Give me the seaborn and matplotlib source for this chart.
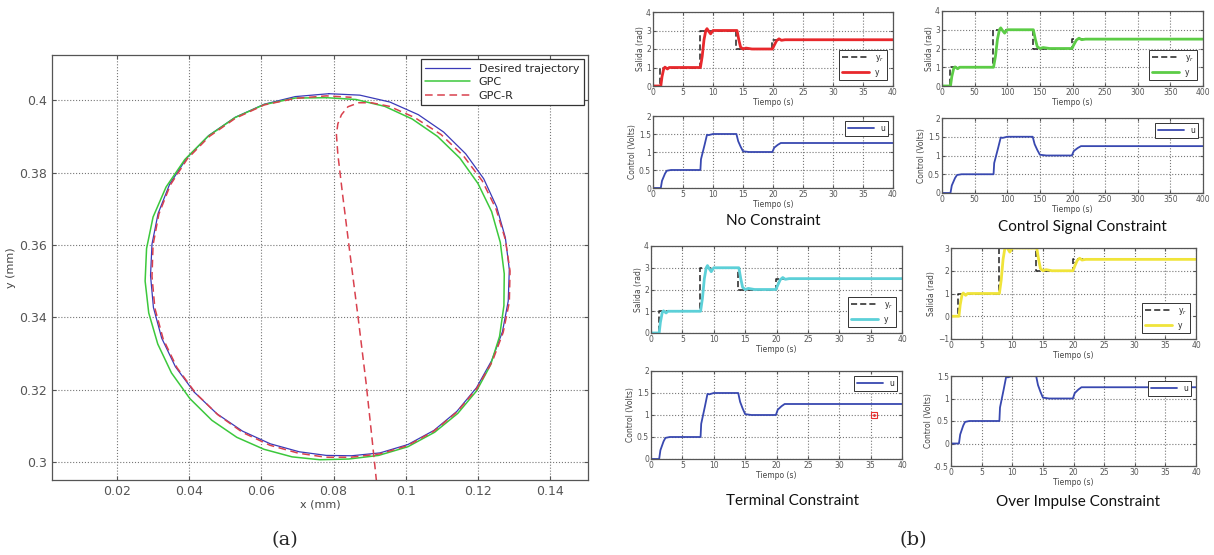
import matplotlib
matplotlib.use("Agg")
import matplotlib.pyplot as plt
import seaborn as sns

# ---- (a) circular trajectory, x / y in mm ----
desired_x = [0.0787, 0.0873, 0.0956, 0.1035, 0.1105, 0.1166, 0.1216, 0.1252, 0.1276, 0.1287,
             0.1284, 0.1268, 0.1238, 0.1196, 0.1142, 0.1078, 0.1006, 0.0929, 0.0850, 0.0780,
             0.0705, 0.0625, 0.0548, 0.0477, 0.0414, 0.0362, 0.0324, 0.0301, 0.0293, 0.0297,
             0.0314, 0.0346, 0.0394, 0.0455, 0.0528, 0.0608, 0.0694, 0.0787]
desired_y = [0.4018, 0.4014, 0.3995, 0.3960, 0.3912, 0.3852, 0.3783, 0.3705, 0.3620, 0.3532,
             0.3445, 0.3360, 0.3280, 0.3205, 0.3140, 0.3087, 0.3048, 0.3025, 0.3017, 0.3018,
             0.3028, 0.3050, 0.3085, 0.3133, 0.3193, 0.3263, 0.3342, 0.3427, 0.3515, 0.3602,
             0.3687, 0.3768, 0.3841, 0.3903, 0.3953, 0.3989, 0.4010, 0.4018]

gpc_x = [0.0780, 0.0862, 0.0942, 0.1018, 0.1088, 0.1150, 0.1200, 0.1238, 0.1262, 0.1273,
         0.1272, 0.1260, 0.1235, 0.1196, 0.1144, 0.1080, 0.1006, 0.0925, 0.0842, 0.0762,
         0.0685, 0.0607, 0.0532, 0.0463, 0.0402, 0.0351, 0.0313, 0.0288, 0.0278, 0.0282,
         0.0300, 0.0336, 0.0388, 0.0452, 0.0527, 0.0608, 0.0694, 0.0780]
gpc_y = [0.4007, 0.4002, 0.3983, 0.3948, 0.3900, 0.3840, 0.3770, 0.3692, 0.3607, 0.3520,
         0.3432, 0.3347, 0.3268, 0.3196, 0.3134, 0.3082, 0.3042, 0.3018, 0.3008, 0.3006,
         0.3014, 0.3035, 0.3068, 0.3115, 0.3175, 0.3246, 0.3326, 0.3412, 0.3500, 0.3590,
         0.3677, 0.3760, 0.3836, 0.3900, 0.3952, 0.3988, 0.4006, 0.4007]

gpcr_x = [0.0919, 0.0905, 0.0890, 0.0868, 0.0845, 0.0825, 0.0812, 0.0808, 0.0812, 0.0822,
          0.0840, 0.0870, 0.0905, 0.0955, 0.1025, 0.1098, 0.1160, 0.1212, 0.1250, 0.1276,
          0.1289, 0.1287, 0.1270, 0.1240, 0.1197, 0.1142, 0.1078, 0.1005, 0.0928, 0.0848,
          0.0778, 0.0703, 0.0624, 0.0549, 0.0480, 0.0418, 0.0366, 0.0328, 0.0305, 0.0297,
          0.0300, 0.0316, 0.0348, 0.0395, 0.0456, 0.0528, 0.0608, 0.0694, 0.0780, 0.0850]
gpcr_y = [0.2946, 0.3080, 0.3220, 0.3400, 0.3580, 0.3740, 0.3850, 0.3905, 0.3935, 0.3960,
          0.3982, 0.3993, 0.3993, 0.3983, 0.3952, 0.3905, 0.3846, 0.3777, 0.3700, 0.3615,
          0.3528, 0.3442, 0.3358, 0.3278, 0.3203, 0.3138, 0.3085, 0.3045, 0.3022, 0.3013,
          0.3013, 0.3024, 0.3046, 0.3081, 0.3130, 0.3190, 0.3261, 0.3340, 0.3425, 0.3513,
          0.3600, 0.3685, 0.3766, 0.3838, 0.3900, 0.3950, 0.3987, 0.4005, 0.4012, 0.4008]

traj_xticks = [0.02, 0.04, 0.06, 0.08, 0.1, 0.12, 0.14]
traj_yticks = [0.3, 0.32, 0.34, 0.36, 0.38, 0.4]

# ---- (b) step responses, time in s (0-40) ----
ref_t = [0, 1.2, 1.2, 7.8, 7.8, 13.9, 13.9, 19.9, 19.9, 40]
ref_v = [0, 0, 1, 1, 3, 3, 2, 2, 2.5, 2.5]

y_t = [0, 1.3, 1.5, 1.8, 2.0, 2.4, 2.7, 3.0, 7.9, 8.2, 8.5, 8.8, 9.0, 9.3, 9.6,
       10.0, 10.5, 14.0, 14.3, 14.6, 15.0, 15.5, 16.5, 19.9, 20.2, 20.6, 21.0, 21.4, 22.0, 40]
y_v = [0, 0, 0.5, 0.95, 1.02, 0.92, 1.0, 1.0, 1.0, 1.6, 2.5, 3.0, 3.1, 2.95, 2.82,
       3.0, 3.0, 3.0, 2.5, 2.1, 2.0, 2.05, 2.0, 2.0, 2.2, 2.45, 2.55, 2.47, 2.5, 2.5]

u_t = [0, 1.3, 1.5, 2.0, 2.3, 3.0, 7.9, 8.0, 8.3, 8.6, 9.0, 9.3, 10.0, 10.3,
       13.9, 14.2, 14.6, 15.0, 16.0, 19.9, 20.2, 20.8, 21.3, 40]
u_v = [0, 0, 0.2, 0.4, 0.48, 0.5, 0.5, 0.8, 1.0, 1.2, 1.48, 1.47, 1.5, 1.5,
       1.5, 1.3, 1.15, 1.02, 1.0, 1.0, 1.12, 1.2, 1.25, 1.25]

panel_titles = ["No Constraint", "Control Signal Constraint",
                "Terminal Constraint", "Over Impulse Constraint"]
panel_time_scale = [1, 10, 1, 1]
panel_top_ylim = [(0, 4), (0, 4), (0, 4), (-1, 3)]
panel_bot_ylim = [(0, 2), (0, 2), (0, 2), (-0.5, 1.5)]
marker_point = (35.5, 1.0)  # small red cursor box in the Terminal panel

sns.set_style("ticks")
plt.rcParams["font.family"] = ["DejaVu Sans"]

W, H = 1214, 555
fig = plt.figure(figsize=(W / 100, H / 100), dpi=100)


def add_px_axes(l, t, r, b):
    return fig.add_axes([l / W, 1 - b / H, (r - l) / W, (b - t) / H])


def matlab_look(ax, fs):
    for s in ax.spines.values():
        s.set_color("#555555")
        s.set_linewidth(0.9)
    ax.tick_params(direction="in", top=True, right=True, labelsize=fs,
                   colors="#555555", length=3, width=0.8)
    ax.grid(True, linestyle=":", color="#777777", linewidth=0.8)


# ---------- left panel ----------
ax = add_px_axes(52, 55, 588, 480)
sns.lineplot(x=desired_x, y=desired_y, ax=ax, sort=False, estimator=None,
             color="#3a3ab8", lw=0.9, label="Desired trajectory")
sns.lineplot(x=gpc_x, y=gpc_y, ax=ax, sort=False, estimator=None,
             color="#3cc83c", lw=1.1, label="GPC")
sns.lineplot(x=gpcr_x, y=gpcr_y, ax=ax, sort=False, estimator=None,
             color="#d9414e", lw=1.1, linestyle=(0, (5, 3)), label="GPC-R")
ax.set_xlim(0.002, 0.1505)
ax.set_ylim(0.295, 0.4125)
ax.set_xticks(traj_xticks)
ax.set_xticklabels([f"{v:g}" for v in traj_xticks])
ax.set_yticks(traj_yticks)
ax.set_yticklabels([f"{v:g}" for v in traj_yticks])
ax.set_xlabel("x (mm)", fontsize=8, color="#444444", labelpad=1)
ax.set_ylabel("y (mm)", fontsize=8, color="#444444", labelpad=2)
matlab_look(ax, 9)
leg = ax.legend(loc="upper right", fontsize=8, fancybox=False, edgecolor="#333333",
                framealpha=1, handlelength=4, borderaxespad=0.4, labelspacing=0.3)
leg.get_frame().set_linewidth(0.9)

# ---------- right panels ----------
boxes_top = [(653, 12, 893, 86), (942, 11, 1203, 86), (651, 246, 902, 333), (951, 248, 1196, 339)]
boxes_bot = [(653, 116, 893, 188), (942, 118, 1203, 193), (651, 371, 902, 459), (951, 376, 1196, 466)]
y_colors = ["#e8282c", "#5ccc46", "#5cd0d8", "#f0e43a"]
title_pos = [(773, 221), (1082, 227), (793, 501), (1078, 502)]

for i in range(4):
    k = panel_time_scale[i]
    a1 = add_px_axes(*boxes_top[i])
    sns.lineplot(x=[t * k for t in ref_t], y=ref_v, ax=a1, sort=False, estimator=None,
                 color="#222222", lw=1.1, linestyle=(0, (4, 2)), label="y$_r$")
    sns.lineplot(x=[t * k for t in y_t], y=y_v, ax=a1, sort=False, estimator=None,
                 color=y_colors[i], lw=2.0, label="y")
    a1.set_xlim(0, 40 * k)
    a1.set_ylim(*panel_top_ylim[i])
    a1.set_xticks([j * 5 * k for j in range(9)])
    lo, hi = panel_top_ylim[i]
    a1.set_yticks(list(range(lo, hi + 1)))
    a1.set_xlabel("Tiempo (s)", fontsize=5.5, color="#444444", labelpad=1)
    a1.set_ylabel("Salida (rad)", fontsize=5.5, color="#444444", labelpad=1)
    matlab_look(a1, 5.5)
    a1.tick_params(length=2, pad=1.5)
    lg = a1.legend(loc="lower right", fontsize=5.5, fancybox=False, edgecolor="#333333",
                   framealpha=1, handlelength=3.5, borderaxespad=0.8, labelspacing=0.5)
    lg.get_frame().set_linewidth(0.7)

    a2 = add_px_axes(*boxes_bot[i])
    sns.lineplot(x=[t * k for t in u_t], y=u_v, ax=a2, sort=False, estimator=None,
                 color="#3848b0", lw=1.3, label="u")
    a2.set_xlim(0, 40 * k)
    a2.set_ylim(*panel_bot_ylim[i])
    a2.set_xticks([j * 5 * k for j in range(9)])
    lo, hi = panel_bot_ylim[i]
    yt = [lo + 0.5 * j for j in range(int((hi - lo) / 0.5) + 1)]
    a2.set_yticks(yt)
    a2.set_yticklabels([f"{v:g}" for v in yt])
    a2.set_xlabel("Tiempo (s)", fontsize=5.5, color="#444444", labelpad=1)
    a2.set_ylabel("Control (Volts)", fontsize=5.5, color="#444444", labelpad=1)
    matlab_look(a2, 5.5)
    a2.tick_params(length=2, pad=1.5)
    lg = a2.legend(loc="upper right", fontsize=5.5, fancybox=False, edgecolor="#333333",
                   framealpha=1, handlelength=3.5, borderaxespad=0.6)
    lg.get_frame().set_linewidth(0.7)
    if i == 2:
        a2.plot(*marker_point, marker="s", ms=5, mfc="none", mec="#e83030", mew=0.8)
        a2.plot(*marker_point, marker=".", ms=2, color="#e83030")

    tx, ty = title_pos[i]
    fig.text(tx / W, 1 - ty / H, panel_titles[i], ha="center", va="center",
             fontsize=11, family=["Lato", "DejaVu Sans"], color="#111111")

fig.text(285 / W, 1 - 540 / H, "(a)", ha="center", va="center", fontsize=14,
         family=["DejaVu Serif"])
fig.text(913 / W, 1 - 540 / H, "(b)", ha="center", va="center", fontsize=14,
         family=["DejaVu Serif"])

fig.savefig("out.png", dpi=100)
